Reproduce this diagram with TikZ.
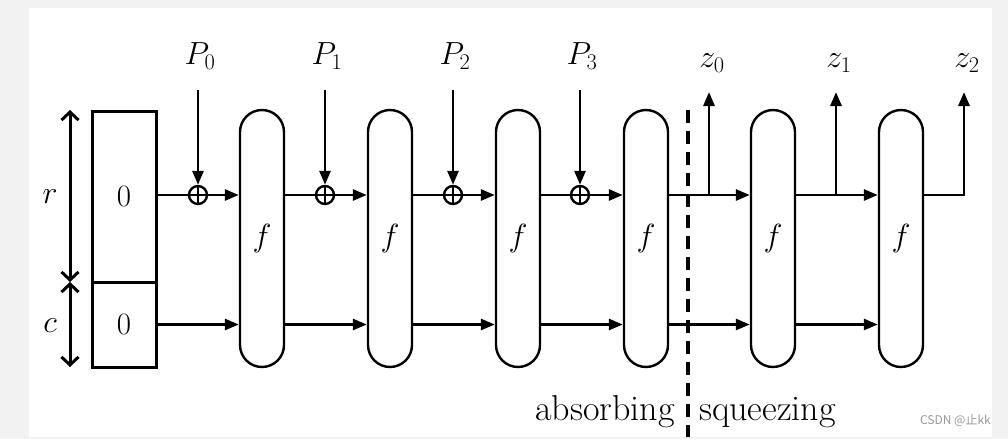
\RequirePackage{fix-cm}
\documentclass[tikz,border=0pt]{standalone}
\usepackage{fontspec}
\newfontfamily\cjk{Noto Sans CJK SC}
\usetikzlibrary{arrows.meta}
\definecolor{bggray}{HTML}{F2F2F2}
\definecolor{wmgray}{HTML}{9A9A9A}
\tikzset{
  ln/.style={line width=2.8pt},
  arr/.style={line width=2.8pt,-{Triangle[length=14pt,width=11pt]}},
  dbl/.style={line width=3pt,{Straight Barb[length=8pt,width=17pt]}-{Straight Barb[length=8pt,width=17pt]}},
  zbox/.style={draw,line width=3pt,minimum width=64pt,inner sep=0pt,font=\fontsize{31}{37}\selectfont},
  fbox/.style={draw,line width=2.4pt,rounded corners=22pt,minimum width=44pt,minimum height=257pt,inner sep=0pt,fill=white,font=\fontsize{32}{38}\selectfont},
  xor/.style={circle,draw,line width=2.4pt,minimum size=18pt,inner sep=0pt,
    path picture={\draw[line width=2.2pt] (path picture bounding box.north) -- (path picture bounding box.south)
      (path picture bounding box.west) -- (path picture bounding box.east);}},
  lab/.style={inner sep=0pt,font=\fontsize{32}{38}\selectfont},
  txt/.style={inner sep=0pt,font=\fontsize{36}{42}\selectfont},
  divline/.style={line width=4pt,dash pattern=on 13pt off 8pt}
}
\begin{document}
\begin{tikzpicture}[x=1pt,y=-1pt]
\fill[bggray] (0,0) rectangle (1008,439);
\fill[white] (29,8) rectangle (992,437);
\useasboundingbox (0,0) rectangle (1008,439);

% state boxes
\node[zbox,minimum height=171pt] (rb) at (124,196.5) {0};
\node[zbox,minimum height=85pt] (cb) at (124,324.5) {0};

% r / c size arrows
\coordinate (a1) at (70,110);
\coordinate (a2) at (70,282);
\coordinate (a3) at (70,367);
\draw[dbl] (a1) -- (a2);
\draw[dbl] (a2) -- (a3);
\node[lab] (rl) at (50,197) {$r$};
\node[lab] (cl) at (50,326) {$c$};

% permutation boxes
\foreach \i/\x in {1/262,2/390,3/518,4/646,5/773,6/901}
  \node[fbox] (f\i) at (\x,238.5) {$f$};

% xor nodes and message blocks
\foreach \i/\x in {0/198,1/325,2/453,3/580}{
  \node[xor] (x\i) at (\x,195) {};
  \coordinate (ps\i) at (\x,90);
  \node[lab] (p\i) at (\x+2,56) {$P_\i$};
  \draw[arr] (ps\i) -- (x\i);
}

% absorbing connections
\draw[ln] (rb.east |- x0) -- (x0);
\draw[arr] (x0) -- (f1.west |- x0);
\draw[arr] (cb.east) -- (f1.west |- cb.east);
\foreach \i/\j in {1/2,2/3,3/4}{
  \pgfmathtruncatemacro{\k}{\i}
  \draw[ln] (f\i.east |- x\k) -- (x\k);
  \draw[arr] (x\k) -- (f\j.west |- x\k);
  \draw[arr] (f\i.east |- cb.east) -- (f\j.west |- cb.east);
}

% squeezing
\foreach \i/\x in {0/709,1/836,2/964}{
  \coordinate (j\i) at (\x,195);
  \coordinate (zt\i) at (\x,92);
  \node[lab] (z\i) at (\x+3,63) {$z_\i$};
}
\draw[arr] (f4.east |- x0) -- (f5.west |- x0);
\draw[arr] (f4.east |- cb.east) -- (f5.west |- cb.east);
\draw[arr] (j0) -- (zt0);
\draw[arr] (f5.east |- x0) -- (f6.west |- x0);
\draw[arr] (f5.east |- cb.east) -- (f6.west |- cb.east);
\draw[arr] (j1) -- (zt1);
\draw[arr] (f6.east |- x0) -| (zt2);

% phase divider
\coordinate (dt) at (688,110);
\coordinate (db) at (688,437);
\draw[divline] (dt) -- (db);
\node[txt,anchor=base east] (abs) at (675,420) {absorbing};
\node[txt,anchor=base west] (sq) at (699,420) {squeezing};

% watermark
\node[anchor=base east,inner sep=0pt,text=wmgray,font=\fontsize{12}{14}\selectfont\cjk] (wm) at (991,424) {CSDN @止kk};
\end{tikzpicture}
\end{document}
